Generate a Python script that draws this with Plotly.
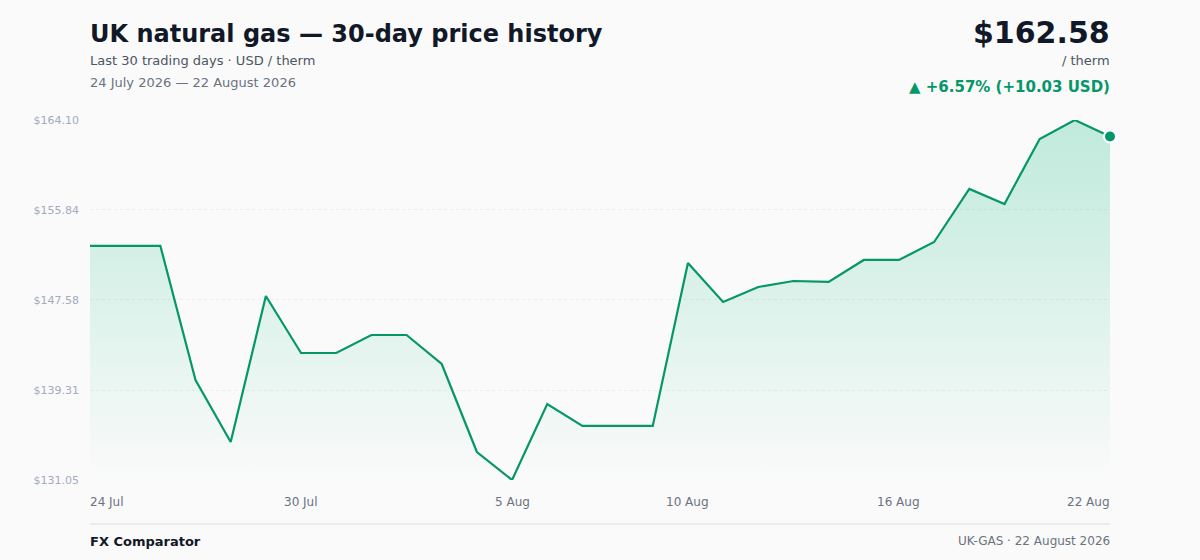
"""UK natural gas 30-day price history, as a Plotly line with a fading area fill."""

import pandas as pd
import plotly.graph_objects as go

DATES = pd.date_range("2026-07-24", "2026-08-22", freq="D")
PRICES = [
    152.55, 152.55, 152.55, 140.23, 134.54, 147.94, 142.71, 142.71, 144.36, 144.36,
    141.70, 133.62, 131.05, 138.03, 136.01, 136.01, 136.01, 150.97, 147.39, 148.77,
    149.32, 149.23, 151.25, 151.25, 152.90, 157.77, 156.39, 162.36, 164.10, 162.58,
]
Y_TICKS = [131.05, 139.31, 147.58, 155.84, 164.10]
Y_TICK_LABELS = ["$131.05", "$139.31", "$147.58", "$155.84", "$164.10"]
X_TICK_IDX = [0, 6, 12, 17, 23, 29]
X_TICK_LABELS = ["24 Jul", "30 Jul", "5 Aug", "10 Aug", "16 Aug", "22 Aug"]

GREEN = "#059669"
FONT = "DejaVu Sans"

last = PRICES[-1]
first = PRICES[0]
change = last - first
pct = change / first * 100

fig = go.Figure()
fig.add_trace(
    go.Scatter(
        x=DATES,
        y=PRICES,
        mode="lines",
        line=dict(color=GREEN, width=2.2),
        fill="tozeroy",
        fillgradient=dict(
            type="vertical",
            start=min(PRICES),
            stop=max(PRICES),
            colorscale=[[0, "rgba(16,185,129,0.0)"], [1, "rgba(16,185,129,0.25)"]],
        ),
        hoverinfo="skip",
        showlegend=False,
    )
)
fig.add_trace(
    go.Scatter(
        x=[DATES[-1]],
        y=[last],
        mode="markers",
        marker=dict(color=GREEN, size=12, line=dict(color="white", width=2)),
        cliponaxis=False,
        hoverinfo="skip",
        showlegend=False,
    )
)

fig.update_layout(
    width=1200,
    height=560,
    margin=dict(l=90, r=90, t=120, b=80),
    paper_bgcolor="#fafafa",
    plot_bgcolor="#fafafa",
    font=dict(family=FONT, color="#6b7280"),
)
fig.update_xaxes(
    range=[DATES[0], DATES[-1]],
    showgrid=False,
    zeroline=False,
    showticklabels=False,
    showline=False,
)
fig.update_yaxes(
    range=[Y_TICKS[0], Y_TICKS[-1]],
    tickvals=Y_TICKS,
    ticktext=Y_TICK_LABELS,
    tickfont=dict(size=11, color="#a3abbd"),
    ticks="",
    ticklabelstandoff=10,
    showgrid=True,
    gridcolor="#eaecef",
    griddash="dot",
    gridwidth=1,
    zeroline=False,
    showline=False,
)

# x tick labels: ends aligned to plot edges, the rest centred
for i, (idx, lab) in enumerate(zip(X_TICK_IDX, X_TICK_LABELS)):
    anchor = "left" if i == 0 else ("right" if i == len(X_TICK_IDX) - 1 else "center")
    shift = {"left": -2, "right": 2, "center": 0}[anchor]
    fig.add_annotation(
        x=DATES[idx], y=-0.06, xref="x", yref="paper", text=lab,
        showarrow=False, xanchor=anchor, yanchor="middle", xshift=shift,
        font=dict(size=12, color="#6b7280"),
    )

texts = [
    dict(x=0, y=34, text="<b>UK natural gas — 30-day price history</b>", xanchor="left",
         font=dict(size=24, color="#111827")),
    dict(x=0, y=61, text="Last 30 trading days · USD / therm", xanchor="left",
         font=dict(size=13, color="#4b5563")),
    dict(x=0, y=83, text="24 July 2026 — 22 August 2026", xanchor="left",
         font=dict(size=13, color="#6b7280")),
    dict(x=1, y=32, text=f"<b>${last:.2f}</b>", xanchor="right",
         font=dict(size=30, color="#111827")),
    dict(x=1, y=61, text="/ therm", xanchor="right",
         font=dict(size=13, color="#4b5563")),
    dict(x=1, y=87, text=f"<b>▲ +{pct:.2f}% (+{change:.2f} USD)</b>", xanchor="right",
         font=dict(size=15, color=GREEN)),
    dict(x=0, y=541, text="<b>FX Comparator</b>", xanchor="left",
         font=dict(size=13, color="#111827")),
    dict(x=1, y=541, text="UK-GAS · 22 August 2026", xanchor="right",
         font=dict(size=12, color="#6b7280")),
]
for t in texts:
    # y given in pixels from the top of the page, converted to paper coords
    ypaper = (560 - 80 - t.pop("y")) / (560 - 120 - 80)
    shift = -2 if t["xanchor"] == "left" else 2
    fig.add_annotation(xref="paper", yref="paper", y=ypaper, yanchor="middle",
                       xshift=shift, showarrow=False, **t)

# footer rule
fig.add_shape(type="line", xref="paper", yref="paper", x0=0, x1=1,
              y0=(560 - 80 - 524) / 360, y1=(560 - 80 - 524) / 360,
              line=dict(color="#e5e7eb", width=1.5))

fig.write_html(
    "out.html",
    config={"displayModeBar": False},
    post_script="document.body.style.margin='0';document.body.style.background='#fafafa';",
)
